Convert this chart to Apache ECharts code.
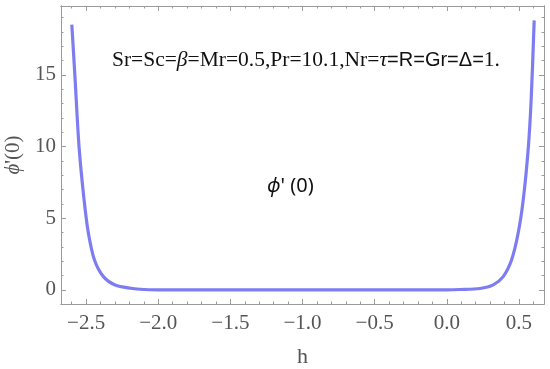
<!DOCTYPE html>
<html>
<head>
<meta charset="utf-8">
<script src="https://cdn.jsdelivr.net/npm/echarts@6/dist/echarts.min.js"></script>
<style>html,body{margin:0;padding:0;background:#fff}#c{width:550px;height:369px}</style>
</head>
<body>
<div id="c"></div>
<script>
// ---- data ----
const hValues   = [-2.599, -2.578, -2.549, -2.514, -2.484, -2.442, -2.38, -2.299, -2.19, -2.1, -2.0, -1.5, -1.0, -0.5, 0.0, 0.09, 0.23, 0.322, 0.391, 0.449, 0.495, 0.530, 0.564, 0.585, 0.606];
const phiValues = [18.5, 15, 10, 6.28, 3.95, 2.09, 0.93, 0.35, 0.12, 0.03, 0.01, 0, 0, 0, 0.01, 0.03, 0.1, 0.35, 0.93, 2.09, 3.97, 6.28, 9.77, 13.26, 18.8];
const xTickLabels = [-2.5, -2.0, -1.5, -1.0, -0.5, 0.0, 0.5];
const yTickLabels = [0, 5, 10, 15];
const xRange = [-2.674, 0.674];
const yRange = [-0.98, 19.8];

const xMinor = [], yMinor = [];
for (let i = -26; i <= 6; i++) { const v = +(i / 10).toFixed(1); if (i % 5 !== 0) xMinor.push(v); }
for (let i = 0; i <= 19; i++) { if (i % 5 !== 0) yMinor.push(i); }

const frame = '#9a9a9a';
const labelColor = '#555';
const serif = '"Liberation Serif", "DejaVu Serif", serif';

function xAx(pos, ticks, len, showLabel) {
  return {
    type: 'value', position: pos, min: xRange[0], max: xRange[1],
    axisLine: { show: true, onZero: false, lineStyle: { color: frame, width: 1 } },
    axisTick: { show: true, inside: true, length: len, customValues: ticks, lineStyle: { color: frame } },
    axisLabel: showLabel ? {
      show: true, customValues: xTickLabels, margin: 9, color: labelColor,
      fontFamily: serif, fontSize: 21,
      formatter: v => (v < 0 ? '\u2212' : '') + Math.abs(v).toFixed(1)
    } : { show: false },
    splitLine: { show: false }
  };
}
function yAx(pos, ticks, len, showLabel) {
  return {
    type: 'value', position: pos, min: yRange[0], max: yRange[1],
    axisLine: { show: true, onZero: false, lineStyle: { color: frame, width: 1 } },
    axisTick: { show: true, inside: true, length: len, customValues: ticks, lineStyle: { color: frame } },
    axisLabel: showLabel ? {
      show: true, customValues: yTickLabels, margin: 5, color: labelColor,
      fontFamily: serif, fontSize: 21
    } : { show: false },
    splitLine: { show: false }
  };
}

const xAxes = [
  xAx('bottom', xTickLabels, 5, true),
  xAx('bottom', xMinor, 2.5, false),
  xAx('top', xTickLabels, 5, false),
  xAx('top', xMinor, 2.5, false)
];
xAxes[0].name = 'h';
xAxes[0].nameLocation = 'middle';
xAxes[0].nameGap = 42;
xAxes[0].nameTextStyle = { color: labelColor, fontFamily: serif, fontSize: 22 };

const yAxes = [
  yAx('left', yTickLabels, 5, true),
  yAx('left', yMinor, 2.5, false),
  yAx('right', yTickLabels, 5, false),
  yAx('right', yMinor, 2.5, false)
];
yAxes[0].name = "{i|\u03D5}'(0)";
yAxes[0].nameLocation = 'middle';
yAxes[0].nameRotate = 90;
yAxes[0].nameGap = 34;
yAxes[0].nameTextStyle = {
  color: labelColor, fontFamily: serif, fontSize: 21,
  rich: { i: { fontStyle: 'italic', fontFamily: serif, fontSize: 21, color: labelColor } }
};

const chart = echarts.init(document.getElementById('c'), null, { renderer: 'canvas' });
chart.setOption({
  animation: false,
  backgroundColor: '#fff',
  grid: { left: 61, right: 6, top: 6, bottom: 65, containLabel: false, outerBoundsMode: 'none' },
  xAxis: xAxes,
  yAxis: yAxes,
  series: [{
    type: 'line',
    xAxisIndex: 0, yAxisIndex: 0,
    data: hValues.map((h, i) => [h, phiValues[i]]),
    showSymbol: false,
    smooth: 0.3,
    lineStyle: { color: '#6666ee', width: 3.2, opacity: 0.85 },
    clip: true
  }],
  graphic: [
    {
      type: 'text', left: 112, top: 49,
      style: {
        text: '{t|Sr=Sc=}{ti|β}{t|=Mr=0.5,Pr=10.1,Nr=}{ti|τ}{s|=R=Gr=Δ=}{t|1.}',
        rich: {
          t: { fontFamily: serif, fontSize: 21.5, fill: '#111' },
          ti: { fontFamily: serif, fontSize: 21.5, fontStyle: 'italic', fill: '#111' },
          s: { fontFamily: '"Liberation Sans", Arial, sans-serif', fontSize: 20, fill: '#111' }
        }
      }
    },
    {
      type: 'text', left: 267, top: 176,
      style: {
        text: "{i|\u03D5}{n|' (0)}",
        rich: {
          i: { fontFamily: '"Noto Sans", sans-serif', fontStyle: 'italic', fontSize: 20, fill: '#111' },
          n: { fontFamily: '"Noto Sans", sans-serif', fontSize: 20, fill: '#111' }
        }
      }
    }
  ]
});
</script>
</body>
</html>
